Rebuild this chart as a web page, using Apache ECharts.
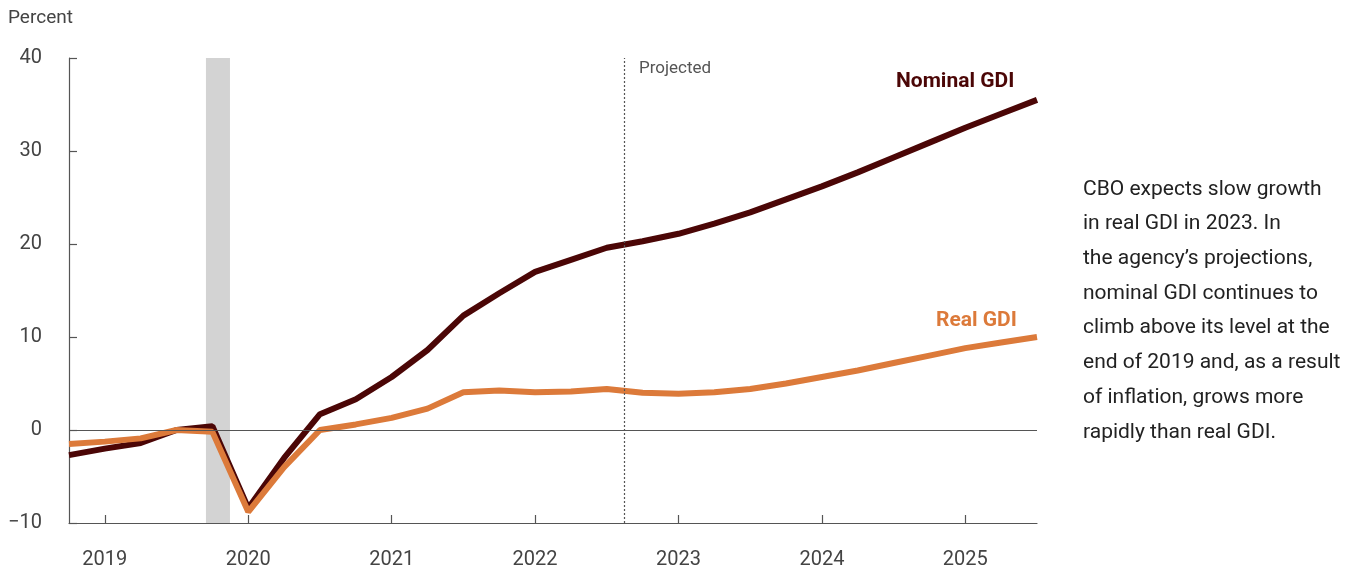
<!DOCTYPE html>
<html>
<head>
<meta charset="utf-8">
<title>Nominal and Real GDI</title>
<script src="https://cdn.jsdelivr.net/npm/echarts@6/dist/echarts.min.js"></script>
<style>
  html, body { margin: 0; padding: 0; background: #fff; }
  #chart { width: 1359px; height: 571px; }
</style>
</head>
<body>
<div id="chart"></div>
<script>
// Quarterly periods, 2019Q1 through 2025Q4 (x value = index into this list)
const quarters = [
  '2019Q1','2019Q2','2019Q3','2019Q4','2020Q1','2020Q2','2020Q3','2020Q4',
  '2021Q1','2021Q2','2021Q3','2021Q4','2022Q1','2022Q2','2022Q3','2022Q4',
  '2023Q1','2023Q2','2023Q3','2023Q4','2024Q1','2024Q2','2024Q3','2024Q4',
  '2025Q1','2025Q2','2025Q3','2025Q4'
];

// Percentage change since 2019Q4
const nominalGDI = [
  -2.7, -2.0, -1.4, 0.0, 0.4, -8.4, -3.0, 1.7,
  3.3, 5.7, 8.6, 12.3, 14.7, 17.0, 18.3, 19.6,
  20.3, 21.1, 22.2, 23.4, 24.8, 26.2, 27.7, 29.3,
  30.9, 32.5, 34.0, 35.5
];
const realGDI = [
  -1.5, -1.25, -0.9, 0.0, -0.2, -8.8, -4.0, 0.0,
  0.6, 1.3, 2.3, 4.05, 4.25, 4.05, 4.15, 4.4,
  4.0, 3.9, 4.05, 4.4, 5.0, 5.7, 6.4, 7.2,
  8.0, 8.8, 9.4, 10.0
];

// Year labels, placed at the second quarter of each year
const yearLabels = ['2019', '2020', '2021', '2022', '2023', '2024', '2025'];
const yearTickQuarters = ['2019Q2','2020Q2','2021Q2','2022Q2','2023Q2','2024Q2','2025Q2'];

// Recession (Feb-Apr 2020) and start of projections, in quarter-index units
const recessionSpan = [3.82, 4.49];
const projectionStart = 15.5;

const tickValues = yearTickQuarters.map(q => quarters.indexOf(q));
const toPairs = arr => arr.map((v, i) => [i, v]);

const FONT = 'Roboto, "Noto Sans", sans-serif';
const AXIS = '#555';
const TEXT = '#444';

const chart = echarts.init(document.getElementById('chart'), null, { renderer: 'canvas' });

chart.setOption({
  animation: false,
  backgroundColor: '#fff',
  textStyle: { fontFamily: FONT },
  grid: { left: 69, right: 322, top: 58, bottom: 48 },
  xAxis: {
    type: 'value',
    min: 0,
    max: quarters.length - 1,
    axisLine: { show: true, onZero: false, lineStyle: { color: AXIS, width: 1.2 } },
    axisTick: {
      show: true, inside: true, length: 8,
      customValues: tickValues,
      lineStyle: { color: AXIS, width: 1.2 }
    },
    axisLabel: {
      customValues: tickValues,
      formatter: v => yearLabels[tickValues.indexOf(v)] || '',
      color: TEXT, fontSize: 20, fontFamily: FONT, margin: 27
    },
    splitLine: { show: false }
  },
  yAxis: {
    type: 'value',
    min: -10,
    max: 40,
    interval: 10,
    axisLine: { show: true, lineStyle: { color: AXIS, width: 1.2 } },
    axisTick: { show: true, inside: true, length: 8, lineStyle: { color: AXIS, width: 1.2 } },
    axisLabel: {
      color: TEXT, fontSize: 20, fontFamily: FONT, margin: 27,
      padding: [4, 0, 0, 0],
      formatter: v => (v < 0 ? '\u2212' + Math.abs(v) : String(v))
    },
    splitLine: { show: false }
  },
  series: [
    {
      name: 'Nominal GDI',
      type: 'line',
      data: toPairs(nominalGDI),
      showSymbol: false,
      symbol: 'none',
      lineStyle: { color: '#4b0606', width: 6 },
      z: 3,
      markArea: {
        silent: true,
        itemStyle: { color: '#d3d3d3' },
        data: [[{ xAxis: recessionSpan[0] }, { xAxis: recessionSpan[1] }]],
        z: 1
      },
      markLine: {
        silent: true,
        symbol: 'none',
        label: { show: false },
        data: [
          { yAxis: 0, lineStyle: { color: AXIS, width: 1.2, type: 'solid' } },
          { xAxis: projectionStart, lineStyle: { color: '#555', width: 1.2, type: [2, 2] } }
        ]
      }
    },
    {
      name: 'Real GDI',
      type: 'line',
      data: toPairs(realGDI),
      showSymbol: false,
      symbol: 'none',
      lineStyle: { color: '#dc7a3a', width: 6 },
      z: 4
    }
  ],
  graphic: [
    {
      type: 'text', left: 8, top: 9,
      style: { text: 'Percent', fill: TEXT, font: '19px ' + FONT }
    },
    {
      type: 'text', left: 639, top: 60,
      style: { text: 'Projected', fill: '#555', font: '17px ' + FONT }
    },
    {
      type: 'text', left: 896, top: 71,
      style: { text: 'Nominal GDI', fill: '#4b0606', font: 'bold 21px ' + FONT }
    },
    {
      type: 'text', left: 936, top: 310,
      style: { text: 'Real GDI', fill: '#dc7a3a', font: 'bold 21px ' + FONT }
    },
    {
      type: 'text', left: 1083, top: 172,
      style: {
        text: 'CBO expects slow growth\nin real GDI in 2023. In\nthe agency\u2019s projections,\nnominal GDI continues to\nclimb above its level at the\nend of 2019 and, as a result\nof inflation, grows more\nrapidly than real GDI.',
        fill: '#222',
        font: '21px ' + FONT,
        lineHeight: 34.7
      }
    }
  ]
});
</script>
</body>
</html>
